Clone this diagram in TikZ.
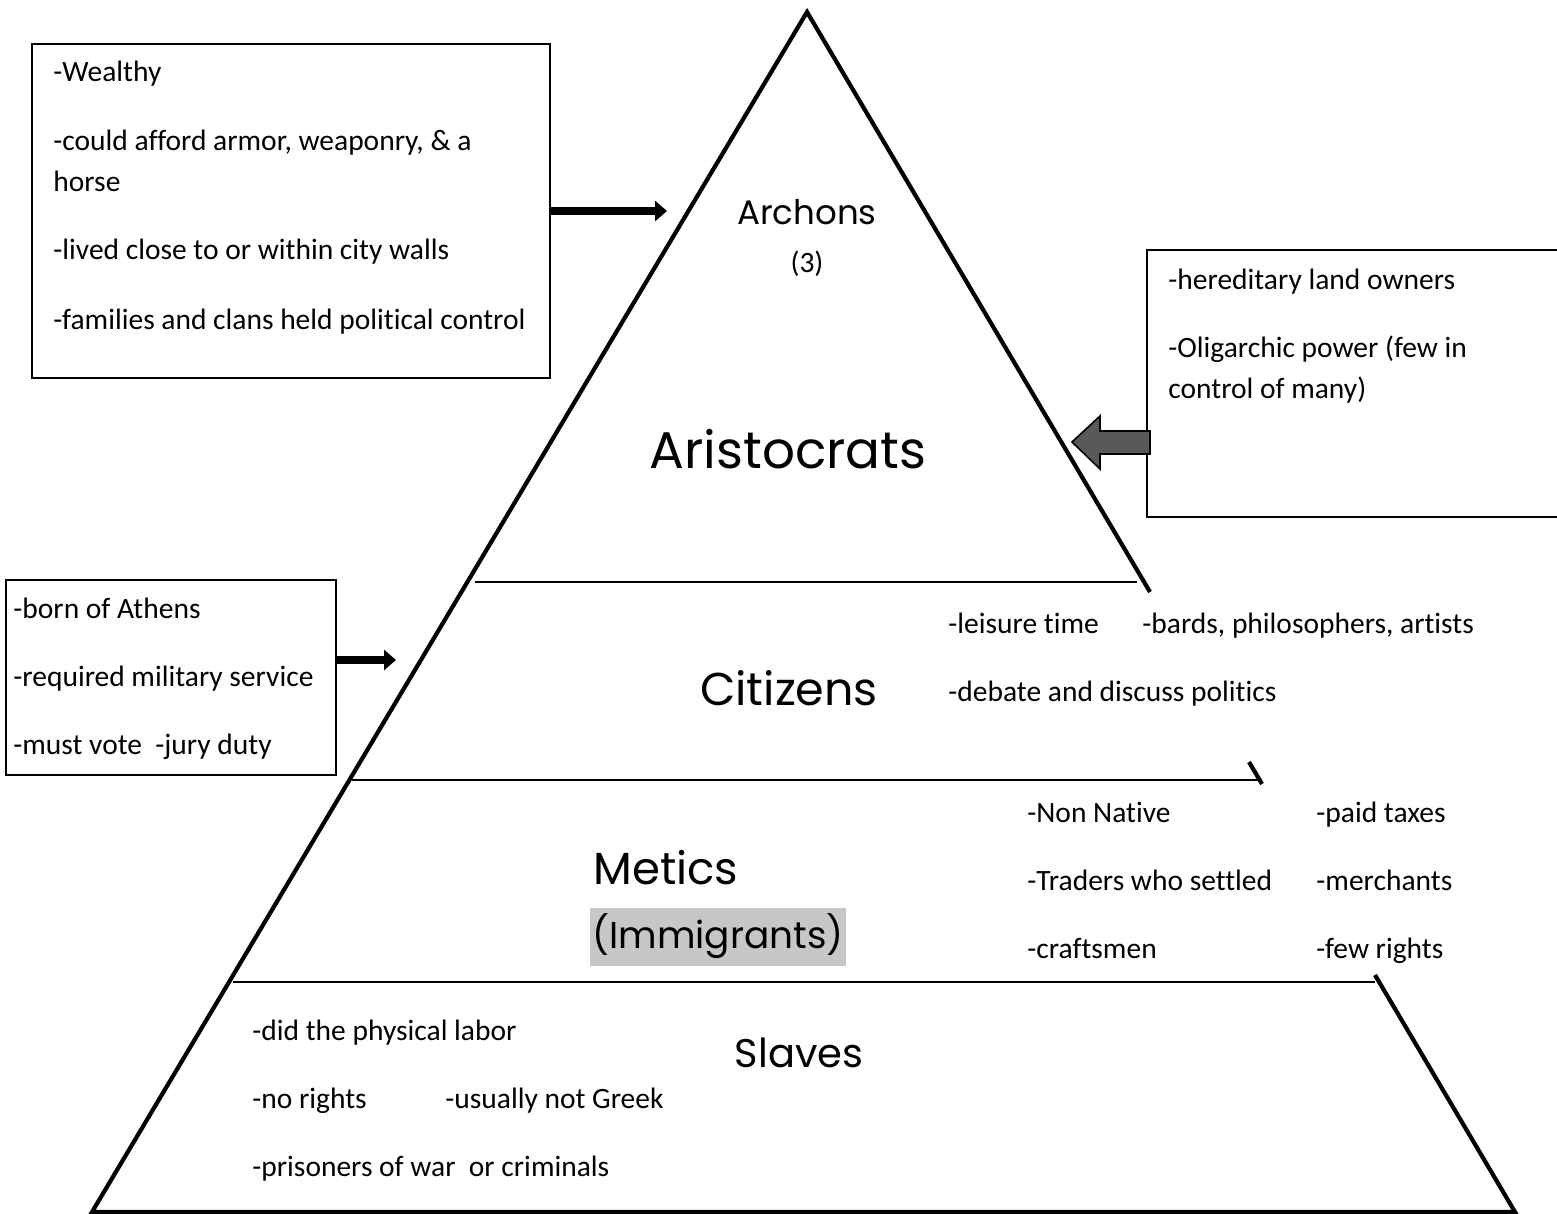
\documentclass[tikz,border=0pt]{standalone}
\usepackage{fontspec}
\setmainfont{Carlito}[Ligatures=NoCommon]
\newfontfamily\handfont{Poppins}
\usetikzlibrary{arrows.meta,fit}
\begin{document}
\begin{tikzpicture}[x=0.5pt,y=-0.5pt,
  edge/.style={line width=2.1pt, line join=miter},
  tier/.style={line width=1.4pt},
  infobox/.style={draw, line width=0.8pt, inner sep=0},
  txt/.style={anchor=base west, inner sep=0, font=\fontsize{14.75}{18}\selectfont},
  tierlabel/.style={inner sep=0, font=\handfont},
  pointer/.style={line width=4pt, -{Triangle[length=6pt,width=10pt]}}
]
\useasboundingbox (0,0) rectangle (1557,1214);
\fill[white] (0,0) rectangle (1557,1214);

% pyramid
\coordinate (apex) at (807,12);
\coordinate (bl) at (92,1212);
\coordinate (br) at (1515,1212);
\draw[edge] (1375,975) -- (br) -- (bl) -- (apex) -- (1150,592);
\draw[edge] (1249,762) -- (1262,784);
\draw[tier] (475,582) -- (1137,582);
\draw[tier] (352,780) -- (1258,780);
\draw[tier] (233,982) -- (1375,982);

% info boxes
\node[infobox, fit={(32,44) (550,378)}] (box1) {};
\node[infobox, fit={(1147,250) (1562,517)}] (box2) {};
\node[infobox, fit={(6,580) (336,775)}] (box3) {};

\node[txt] (b1a) at (53,82) {-Wealthy};
\node[txt] (b1b) at (53,151) {-could afford armor, weaponry, \& a};
\node[txt] (b1c) at (53,192) {horse};
\node[txt] (b1d) at (53,260) {-lived close to or within city walls};
\node[txt] (b1e) at (53,329) {-families and clans held political control};

\node[txt] (b2a) at (1168,289) {-hereditary land owners};
\node[txt] (b2b) at (1168,357) {-Oligarchic power (few in};
\node[txt] (b2c) at (1168,398) {control of many)};

\node[txt] (b3a) at (13,618) {-born of Athens};
\node[txt] (b3b) at (13,686) {-required military service};
\node[txt] (b3c) at (13,754) {-must vote\ \ -jury duty};

% arrows
\coordinate (a1e) at (667,211);
\draw[pointer] (box1.east) -- (a1e);
\coordinate (a3e) at (396,660);
\draw[pointer] (box3.east |- a3e) -- (a3e);
\coordinate (a2tip) at (1072,442);
\draw[fill=black!65, line width=0.8pt] (a2tip) -- (1100,416) -- (1100,431) -- (1150,431) -- (1150,454) -- (1100,454) -- (1100,469) -- cycle;

% tier labels
\node[tierlabel, font=\handfont\fontsize{17}{20}\selectfont] (archons) at (807,212) {Archons};
\node[txt, anchor=base] (three) at (807,272) {(3)};
\node[tierlabel, font=\handfont\fontsize{25.8}{30}\selectfont] (aristo) at (788,449) {Aristocrats};
\node[tierlabel, font=\handfont\fontsize{23}{26}\selectfont] (citizens) at (789,688) {Citizens};
\node[tierlabel, font=\handfont\fontsize{22.5}{26}\selectfont] (metics) at (666,868) {Metics};
\fill[black!22] (590,908) rectangle (846,966);
\node[tierlabel, font=\handfont\fontsize{18.7}{22}\selectfont] (immig) at (718,936) {(Immigrants)};
\node[tierlabel, font=\handfont\fontsize{20}{24}\selectfont] (slaves) at (799,1053) {Slaves};

% citizens notes
\node[txt] (c1) at (948,633) {-leisure time};
\node[txt] (c2) at (1142,633) {-bards, philosophers, artists};
\node[txt] (c3) at (948,701) {-debate and discuss politics};

% metics notes
\node[txt] (m1) at (1027,822) {-Non Native};
\node[txt] (m2) at (1027,890) {-Traders who settled};
\node[txt] (m3) at (1027,958) {-craftsmen};
\node[txt] (m4) at (1316,822) {-paid taxes};
\node[txt] (m5) at (1316,890) {-merchants};
\node[txt] (m6) at (1316,958) {-few rights};

% slaves notes
\node[txt] (s1) at (252,1040) {-did the physical labor};
\node[txt] (s2) at (252,1108) {-no rights};
\node[txt] (s3) at (445,1108) {-usually not Greek};
\node[txt] (s4) at (252,1176) {-prisoners of war\ \ or criminals};
\end{tikzpicture}
\end{document}
